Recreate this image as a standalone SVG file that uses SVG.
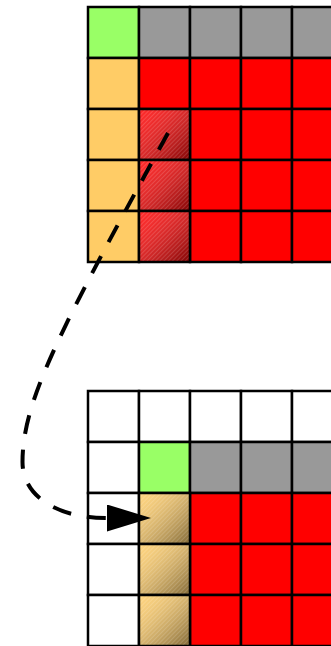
<svg xmlns="http://www.w3.org/2000/svg" width="331" height="646" viewBox="0 0 331 646">
<style>
.c{stroke:#000;stroke-width:2.5}
.g{fill:#99ff66}
.gr{fill:#999999}
.o{fill:#ffcc66}
.r{fill:#ff0000}
.w{fill:#ffffff}
.sh{fill:url(#shade);stroke:none}
.st{fill:url(#stripes);stroke:none}
.edge{fill:none;stroke:#000;stroke-width:4;stroke-dasharray:19 16}
</style>
<defs>
<linearGradient id="shade" x1="0" y1="0" x2="1" y2="1">
<stop offset="0" stop-color="#ffffff" stop-opacity="0.15"/>
<stop offset="1" stop-color="#000000" stop-opacity="0.5"/>
</linearGradient>
<pattern id="stripes" width="3" height="3" patternUnits="userSpaceOnUse" patternTransform="rotate(-45)">
<rect x="0" y="0" width="3" height="1" fill="#ffffff" fill-opacity="0.15"/>
</pattern>
<marker id="arr" markerUnits="userSpaceOnUse" markerWidth="46" markerHeight="30" refX="0" refY="13.5" orient="auto" viewBox="0 0 46 30">
<path d="M0,0 L44,13.5 L0,27 Z" fill="#000"/>
</marker>
</defs>
<g id="grid-top">
<rect class="c g" x="88" y="7" width="51" height="51"/>
<rect class="c gr" x="139" y="7" width="51" height="51"/>
<rect class="c gr" x="190" y="7" width="51" height="51"/>
<rect class="c gr" x="241" y="7" width="51" height="51"/>
<rect class="c gr" x="292" y="7" width="51" height="51"/>
<rect class="c o" x="88" y="58" width="51" height="51"/>
<rect class="c r" x="139" y="58" width="51" height="51"/>
<rect class="c r" x="190" y="58" width="51" height="51"/>
<rect class="c r" x="241" y="58" width="51" height="51"/>
<rect class="c r" x="292" y="58" width="51" height="51"/>
<rect class="c o" x="88" y="109" width="51" height="51"/>
<rect class="c r" x="190" y="109" width="51" height="51"/>
<rect class="c r" x="241" y="109" width="51" height="51"/>
<rect class="c r" x="292" y="109" width="51" height="51"/>
<rect class="c o" x="88" y="160" width="51" height="51"/>
<rect class="c r" x="190" y="160" width="51" height="51"/>
<rect class="c r" x="241" y="160" width="51" height="51"/>
<rect class="c r" x="292" y="160" width="51" height="51"/>
<rect class="c o" x="88" y="211" width="51" height="51"/>
<rect class="c r" x="190" y="211" width="51" height="51"/>
<rect class="c r" x="241" y="211" width="51" height="51"/>
<rect class="c r" x="292" y="211" width="51" height="51"/>
<g id="top-hatched-1">
<rect class="r" x="139" y="109" width="51" height="51"/>
<rect class="sh" x="139" y="109" width="51" height="51"/>
<rect class="st" x="139" y="109" width="51" height="51"/>
<rect class="c" fill="none" x="139" y="109" width="51" height="51"/>
</g>
<g id="top-hatched-2">
<rect class="r" x="139" y="160" width="51" height="51"/>
<rect class="sh" x="139" y="160" width="51" height="51"/>
<rect class="st" x="139" y="160" width="51" height="51"/>
<rect class="c" fill="none" x="139" y="160" width="51" height="51"/>
</g>
<g id="top-hatched-3">
<rect class="r" x="139" y="211" width="51" height="51"/>
<rect class="sh" x="139" y="211" width="51" height="51"/>
<rect class="st" x="139" y="211" width="51" height="51"/>
<rect class="c" fill="none" x="139" y="211" width="51" height="51"/>
</g>
</g>
<g id="grid-bottom">
<rect class="c w" x="88" y="391" width="51" height="51"/>
<rect class="c w" x="139" y="391" width="51" height="51"/>
<rect class="c w" x="190" y="391" width="51" height="51"/>
<rect class="c w" x="241" y="391" width="51" height="51"/>
<rect class="c w" x="292" y="391" width="51" height="51"/>
<rect class="c w" x="88" y="442" width="51" height="51"/>
<rect class="c g" x="139" y="442" width="51" height="51"/>
<rect class="c gr" x="190" y="442" width="51" height="51"/>
<rect class="c gr" x="241" y="442" width="51" height="51"/>
<rect class="c gr" x="292" y="442" width="51" height="51"/>
<rect class="c w" x="88" y="493" width="51" height="51"/>
<rect class="c r" x="190" y="493" width="51" height="51"/>
<rect class="c r" x="241" y="493" width="51" height="51"/>
<rect class="c r" x="292" y="493" width="51" height="51"/>
<rect class="c w" x="88" y="544" width="51" height="51"/>
<rect class="c r" x="190" y="544" width="51" height="51"/>
<rect class="c r" x="241" y="544" width="51" height="51"/>
<rect class="c r" x="292" y="544" width="51" height="51"/>
<rect class="c w" x="88" y="595" width="51" height="51"/>
<rect class="c r" x="190" y="595" width="51" height="51"/>
<rect class="c r" x="241" y="595" width="51" height="51"/>
<rect class="c r" x="292" y="595" width="51" height="51"/>
<g id="bottom-hatched-1">
<rect class="o" x="139" y="493" width="51" height="51"/>
<rect class="sh" x="139" y="493" width="51" height="51"/>
<rect class="st" x="139" y="493" width="51" height="51"/>
<rect class="c" fill="none" x="139" y="493" width="51" height="51"/>
</g>
<g id="bottom-hatched-2">
<rect class="o" x="139" y="544" width="51" height="51"/>
<rect class="sh" x="139" y="544" width="51" height="51"/>
<rect class="st" x="139" y="544" width="51" height="51"/>
<rect class="c" fill="none" x="139" y="544" width="51" height="51"/>
</g>
<g id="bottom-hatched-3">
<rect class="o" x="139" y="595" width="51" height="51"/>
<rect class="sh" x="139" y="595" width="51" height="51"/>
<rect class="st" x="139" y="595" width="51" height="51"/>
<rect class="c" fill="none" x="139" y="595" width="51" height="51"/>
</g>
</g>
<g id="connectors">
<path class="edge" d="M168,133 C58,333 22.5,402 22.5,462 C22.5,495 55,518 107,518" marker-end="url(#arr)"/>
</g>
</svg>
